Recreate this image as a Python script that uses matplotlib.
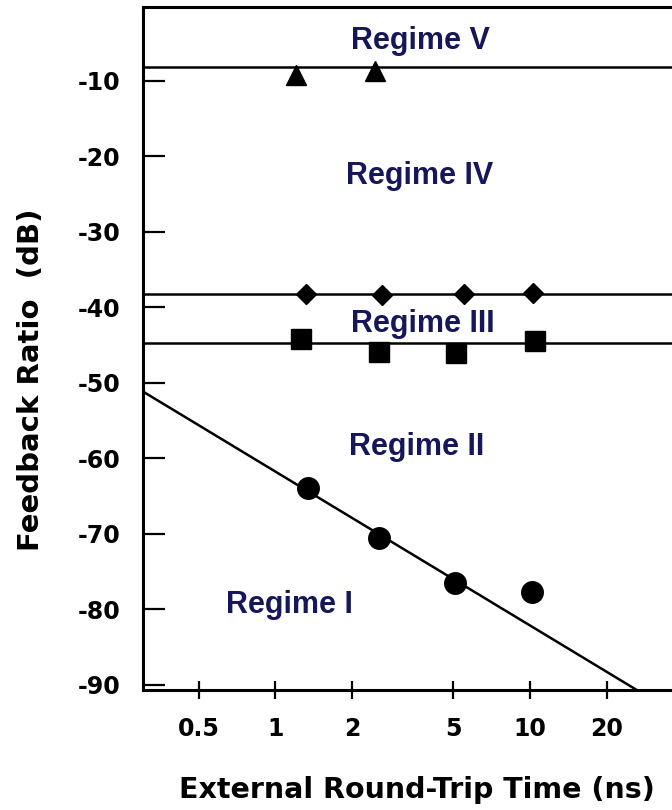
import matplotlib.pyplot as plt
import numpy as np
from matplotlib.ticker import FixedLocator, FixedFormatter, NullLocator

# measured points (round-trip time in ns, feedback ratio in dB)
circle_x = [1.34, 2.56, 5.07, 10.2]
circle_y = [-64.0, -70.6, -76.5, -77.7]

square_x = [1.26, 2.56, 5.12, 10.4]
square_y = [-44.2, -45.9, -46.1, -44.5]

diamond_x = [1.32, 2.62, 5.51, 10.3]
diamond_y = [-38.3, -38.4, -38.2, -38.1]

triangle_x = [1.21, 2.46]
triangle_y = [-9.2, -8.7]

# regime boundaries
boundaries = [-8.15, -38.3, -44.8]
trend_x = [0.3, 30]
trend_y = [-51.1, -91.9]

regime_labels = ['Regime V', 'Regime IV', 'Regime III', 'Regime II', 'Regime I']
regime_x = [3.7, 3.7, 3.8, 3.6, 1.14]
regime_y = [-4.7, -22.6, -42.2, -58.5, -79.4]

xticks = [0.5, 1, 2, 5, 10, 20]
xtick_labels = ['0.5', '1', '2', '5', '10', '20']
yticks = [-10, -20, -30, -40, -50, -60, -70, -80, -90]

fig = plt.figure(figsize=(6.72, 8.10), dpi=100)
ax = fig.add_axes([0.2124, 0.1481, 0.7876, 0.8429])

ax.set_xscale('log')
ax.set_xlim(0.302, 36)
ax.set_ylim(-90.7, -0.3)

for b in boundaries:
    ax.axhline(b, color='black', lw=1.8, zorder=2)
ax.plot(trend_x, trend_y, color='black', lw=1.8, zorder=2)

ax.plot(circle_x, circle_y, 'o', color='black', ms=15.5, zorder=3)
ax.plot(square_x, square_y, 's', color='black', ms=15, zorder=3)
ax.plot(diamond_x, diamond_y, 'D', color='black', ms=10, zorder=3)
ax.plot(triangle_x, triangle_y, '^', color='black', ms=15, zorder=3)

for lab, x, y in zip(regime_labels, regime_x, regime_y):
    ax.text(x, y, lab, ha='center', va='center', fontsize=22, fontweight='bold',
            family='Liberation Sans', color='#16165a', zorder=4)

ax.xaxis.set_major_locator(FixedLocator(xticks))
ax.xaxis.set_major_formatter(FixedFormatter(xtick_labels))
ax.xaxis.set_minor_locator(NullLocator())
ax.set_yticks(yticks)
ax.set_yticklabels([str(v) for v in yticks])

ax.tick_params(axis='y', direction='in', length=16, width=1.6, pad=16,
               labelsize=17)
ax.tick_params(axis='x', direction='inout', length=13, width=1.6, pad=13,
               labelsize=17)
for lab in ax.get_xticklabels() + ax.get_yticklabels():
    lab.set_fontweight('bold')

for side in ['left', 'bottom', 'top']:
    ax.spines[side].set_linewidth(2.2)
ax.spines['right'].set_visible(False)

ax.set_xlabel('External Round-Trip Time (ns)', fontsize=20.5, fontweight='bold')
ax.xaxis.set_label_coords(0.518, -0.146)
ax.xaxis.label.set_va('center')
ax.set_ylabel('Feedback Ratio  (dB)', fontsize=21, fontweight='bold')
ax.yaxis.set_label_coords(-0.211, 0.454)
ax.yaxis.label.set_va('center')

fig.savefig('out.png', dpi=100)
